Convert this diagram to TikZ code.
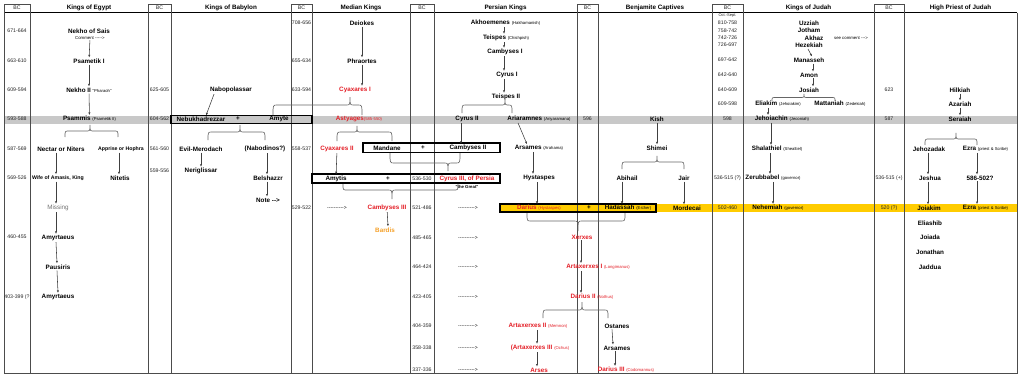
\documentclass[tikz,border=0pt]{standalone}
\usepackage{fontspec}
\newfontfamily\arial{Liberation Sans}
\usetikzlibrary{arrows.meta}
\definecolor{myred}{RGB}{228,30,38}
\definecolor{myorange}{RGB}{245,160,40}
\definecolor{band}{RGB}{200,200,200}
\definecolor{gold}{RGB}{255,204,0}
\newcommand\sm[1]{{\mdseries\fontsize{4.2}{5}\selectfont #1}}
\newcommand\mybrace[6]{\draw[brc] (#1,#6) .. controls (#1,#5) .. ({#1+4},#5) -- ({#3-4},#5) .. controls (#3,#5) .. (#3,#4) .. controls (#3,#5) .. ({#3+4},#5) -- ({#2-4},#5) .. controls (#2,#5) .. (#2,#6);}
\tikzset{
 nm/.style={font=\arial\bfseries\fontsize{6.3}{7}\selectfont, inner sep=1pt},
 nms/.style={font=\arial\bfseries\fontsize{5.2}{6}\selectfont, inner sep=1pt},
 rd/.style={nm, text=myred},
 gy/.style={font=\arial\fontsize{6.3}{7}\selectfont, inner sep=1pt, text=black!55},
 bc/.style={font=\arial\fontsize{5.2}{6}\selectfont, inner sep=0.5pt, text=black!85},
 bcs/.style={font=\arial\fontsize{4}{5}\selectfont, inner sep=0.5pt, text=black!85},
 hd/.style={font=\arial\bfseries\fontsize{6.3}{7}\selectfont, inner sep=0.5pt},
 sm0/.style={font=\arial\fontsize{4.3}{5}\selectfont, inner sep=0.5pt},
 smb/.style={font=\arial\bfseries\fontsize{4.3}{5}\selectfont, inner sep=0.5pt},
 dsh/.style={font=\arial\fontsize{5}{6}\selectfont, inner sep=0.5pt},
 arr/.style={draw=black!75, line width=0.55pt, -{Latex[length=2.6pt,width=2.2pt]}},
 brc/.style={draw=black!60, line width=0.65pt},
 col/.style={draw=black!70, line width=0.8pt},
 pbox/.style={draw=black, line width=1.3pt},
}
\begin{document}
\begin{tikzpicture}[x=1pt,y=-1pt]
\useasboundingbox (0,0) rectangle (1024,380);
\fill[white] (0,0) rectangle (1024,380);
% bands
\fill[band] (4,115.5) rectangle (1017,123.5);
\fill[gold] (500,204) rectangle (1017,212);
% frame
\draw[line width=1.2pt] (4,12.5) -- (1017,12.5);
\draw[col] (1017,12.5) -- (1017,373) -- (4,373);
\foreach \a/\b in {4/30,148/171,291/312,410/434,577/598,712/743,874/904}
  \draw[col] (\a,4) rectangle (\b,373);
% boxes
\draw[pbox] (171,115.5) rectangle (312,123.5);
\draw[pbox] (363,143) rectangle (500,152.5);
\draw[pbox] (312,174) rectangle (500,183);
\draw[pbox] (500,204) rectangle (656,212);

% headers
\node[bc] (hb1) at (17,8) {BC};
\node[bc] (hb2) at (159.5,8) {BC};
\node[bc] (hb3) at (301.5,8) {BC};
\node[bc] (hb4) at (422,8) {BC};
\node[bc] (hb5) at (587.5,8) {BC};
\node[bc] (hb6) at (727.5,8) {BC};
\node[bc] (hb7) at (889,8) {BC};
\node[hd] (hEg) at (89,8) {Kings of Egypt};
\node[hd] (hBa) at (231,8) {Kings of Babylon};
\node[hd] (hMe) at (361,8) {Median Kings};
\node[hd] (hPe) at (505.5,8) {Persian Kings};
\node[hd] (hBe) at (655,8) {Benjamite Captives};
\node[hd] (hJu) at (808.5,8) {Kings of Judah};
\node[hd] (hHp) at (960.5,8) {High Priest of Judah};

% BC values
\node[bc] (c11) at (17,31) {671-664};
\node[bc] (c12) at (17,61) {663-610};
\node[bc] (c13) at (17,90) {609-594};
\node[bc] (c14) at (17,119) {593-588};
\node[bc] (c15) at (17,149) {587-569};
\node[bc] (c16) at (17,178) {569-526};
\node[bc] (c17) at (17,237) {460-455};
\node[bc] (c18) at (17,297) {403-399 (?};
\node[bc] (c21) at (159.5,90) {625-605};
\node[bc] (c22) at (159.5,119) {604-562};
\node[bc] (c23) at (159.5,149) {561-560};
\node[bc] (c24) at (159.5,171) {559-556};
\node[bc] (c31) at (301.5,23) {708-656};
\node[bc] (c32) at (301.5,61) {655-634};
\node[bc] (c33) at (301.5,90) {633-594};
\node[bc] (c34) at (301.5,149) {558-537};
\node[bc] (c35) at (301.5,208) {529-522};
\node[bc] (c41) at (422,178.5) {536-530};
\node[bc] (c42) at (422,208) {521-486};
\node[bc] (c43) at (422,238) {485-465};
\node[bc] (c44) at (422,267) {464-424};
\node[bc] (c45) at (422,297) {423-405};
\node[bc] (c46) at (422,326) {404-359};
\node[bc] (c47) at (422,348) {358-338};
\node[bc] (c48) at (422,370) {337-336};
\node[bc] (c51) at (587.5,119) {596};
\node[bcs] (c60) at (727.5,15.5) {Oct.-Sept.};
\node[bc] (c61) at (727.5,23) {810-758};
\node[bc] (c62) at (727.5,30.5) {758-742};
\node[bc] (c63) at (727.5,38) {742-726};
\node[bc] (c64) at (727.5,45) {726-697};
\node[bc] (c65) at (727.5,60) {697-642};
\node[bc] (c66) at (727.5,75) {642-640};
\node[bc] (c67) at (727.5,90) {640-609};
\node[bc] (c68) at (727.5,104) {609-598};
\node[bc] (c69) at (727.5,119) {598};
\node[bc] (c6a) at (727.5,178) {536-515 (?)};
\node[bc] (c6b) at (727.5,208) {502-460};
\node[bc] (c71) at (889,90) {623};
\node[bc] (c72) at (889,119) {587};
\node[bc] (c73) at (889,178) {536-515 (+)};
\node[bc] (c74) at (889,208) {520 (?)};

% Egypt
\node[nm] (e1) at (89,31) {Nekho of Sais};
\node[sm0] (ecm) at (90,38) {Comment ----->};
\node[nm] (e2) at (89,61) {Psametik I};
\node[nm] (e3) at (89,90) {Nekho II \sm{"Pharaoh"}};
\node[nm] (e4) at (89.5,119) {Psammis \sm{(Psametik II)}};
\node[nm] (e5) at (61,149) {Nectar or Niters};
\node[nms] (e6) at (121,149) {Apprise or Hophra};
\node[nms] (e7) at (58,178) {Wife of Amasis, King};
\node[nm] (e8) at (120,178) {Nitetis};
\node[gy] (e9) at (58,208) {Missing};
\node[nm] (e10) at (58,238) {Amyrtaeus};
\node[nm] (e11) at (58,267) {Pausiris};
\node[nm] (e12) at (58,297) {Amyrtaeus};
\draw[arr] (ecm) -- (e2);
\draw[arr] (e2) -- (e3);
\draw[arr] (e3) -- (e4);
\draw[arr] ([xshift=-5pt]e5.south) -- ([xshift=-2pt]e7.north);
\draw[arr] ([xshift=-2pt]e6.south) -- ([xshift=-1pt]e8.north);
\draw[arr] ([xshift=-2pt]e7.south) -- ([xshift=-2pt]e9.north);
\draw[arr] ([xshift=-2pt]e9.south) -- ([xshift=-2pt]e10.north);
\draw[arr] ([xshift=-2pt]e10.south) -- ([xshift=-1pt]e11.north);
\draw[arr] ([xshift=-1pt]e11.south) -- (e12.north);
\mybrace{65}{118}{90}{125}{131}{137}

% Babylon
\node[nm] (b1) at (231,90) {Nabopolassar};
\node[nm] (b2) at (201,119) {Nebukhadrezzar};
\node[nm] (bplus) at (238,119) {+};
\node[nm] (b3) at (279,119) {Amyte};
\node[nm] (b4) at (201,149) {Evil-Merodach};
\node[nm] (b5) at (265,149) {(Nabodinos?)};
\node[nm] (b6) at (201,171) {Neriglissar};
\node[nm] (b7) at (268,178) {Belshazzr};
\node[nm] (b8) at (268,200) {Note -->};
\draw[arr] ([xshift=-17pt]b1.south) -- ([xshift=5pt]b2.north);
\draw[arr] (b4) -- (b6);
\draw[arr] ([xshift=2pt]b5.south) -- ([xshift=-1pt]b7.north);
\draw[arr] ([xshift=-1pt]b7.south) -- ([xshift=-1pt]b8.north);
\mybrace{208}{265}{240}{125}{132}{140}

% Median
\node[nm] (m1) at (362,23) {Deiokes};
\node[nm] (m2) at (362,61) {Phraortes};
\node[rd] (m3) at (355,90) {Cyaxares I};
\node[rd] (m4) at (359,119) {Astyages\sm{(585-550)}};
\node[rd] (m5) at (337,149) {Cyaxares II};
\node[nm] (m6) at (387,148) {Mandane};
\node[nm] (mplus) at (423,148) {+};
\node[nm] (p6b) at (468,148) {Cambyses II};
\node[nm] (m7) at (336,178.5) {Amytis};
\node[nm] (mplus2) at (388,178.5) {+};
\node[rd] (p7b) at (467,178.5) {Cyrus III, of Persia};
\node[smb] (pgr) at (467,187) {"the Great"};
\node[dsh] (md1) at (337,208) {---------->};
\node[rd] (m8) at (387,208) {Cambyses III};
\node[nm, text=myorange] (m9) at (385,230) {Bardis};
\draw[arr] (m1) -- (m2);
\draw[arr] (m2) -- ([xshift=7pt]m3.north);
\draw[arr] (m5) -- (m7);
\draw[arr] (m8) -- ([xshift=3pt]m9.north);
\mybrace{273}{362}{350}{97}{105}{115}
\mybrace{337}{392}{357}{126}{132}{141}
\mybrace{390}{460}{448}{171}{163}{153}
\mybrace{343}{458}{392}{199}{190}{184}

% Persian
\node[nm] (p1) at (505.5,23) {Akhoemenes \sm{(Hakhamanish)}};
\node[nm] (p2) at (506,38) {Teispes \sm{(Chishpish)}};
\node[nm] (p3) at (505,52) {Cambyses I};
\node[nm] (p4) at (507,75) {Cyrus I};
\node[nm] (p5) at (506,97) {Teispes II};
\node[nm] (p6) at (467,119) {Cyrus II};
\node[nm] (p7) at (539,119) {Ariaramnes \sm{(Ariyaramana)}};
\node[nm] (p8) at (539,148) {Arsames \sm{(Arahama)}};
\node[nm] (p9) at (539,178) {Hystaspes};
\node[rd] (p10) at (539,208) {Darius \sm{(Hystaspes)}};
\node[nm] (pplus) at (589,208) {+};
\node[rd] (p11) at (582,237) {Xerxes};
\node[rd] (p12) at (598,267) {Artaxerxes I \sm{(Longimanus)}};
\node[rd] (p13) at (592,297) {Darius II \sm{(Nothus)}};
\node[rd] (p14) at (538,326) {Artaxerxes II \sm{(Memnon)}};
\node[nm] (p15) at (617,326) {Ostanes};
\node[rd] (p16) at (540,348) {(Artaxerxes III \sm{(Ochus)}};
\node[nm] (p17) at (617,348) {Arsames};
\node[rd] (p18) at (539,370) {Arses};
\node[rd] (p19) at (626,370) {Darius III \sm{(Codomannus)}};
\node[dsh] (pd1) at (468,208) {---------->};
\node[dsh] (pd2) at (468,238) {---------->};
\node[dsh] (pd3) at (468,267) {---------->};
\node[dsh] (pd4) at (468,297) {---------->};
\node[dsh] (pd5) at (468,326) {---------->};
\node[dsh] (pd6) at (468,348) {---------->};
\node[dsh] (pd7) at (468,370) {---------->};
\draw[arr] ([xshift=-1.5pt]p1.south) -- ([xshift=-2pt]p2.north);
\draw[arr] ([xshift=-2pt]p2.south) -- ([xshift=-1pt]p3.north);
\draw[arr] ([xshift=-1pt]p3.south) -- ([xshift=-3pt]p4.north);
\draw[arr] ([xshift=-3pt]p4.south) -- ([xshift=-2pt]p5.north);
\draw[arr] ([xshift=-6pt]p6.south) -- ([xshift=-7pt]p6b.north);
\draw[arr] ([xshift=-21pt]p7.south) -- ([xshift=-12pt]p8.north);
\draw[arr] ([xshift=-6pt]p8.south) -- ([xshift=-6pt]p9.north);
\draw[arr] ([xshift=-2pt]p9.south) -- ([xshift=-2pt]p10.north);
\draw[arr] ([xshift=-1pt]p11.south) -- ([xshift=-17pt]p12.north);
\draw[arr] ([xshift=-17pt]p12.south) -- ([xshift=-11pt]p13.north);
\draw[arr] ([xshift=-1pt]p14.south) -- ([xshift=-3pt]p16.north);
\draw[arr] ([xshift=-5pt]p15.south) -- ([xshift=-4pt]p17.north);
\draw[arr] ([xshift=-3pt]p16.south) -- ([xshift=-2pt]p18.north);
\draw[arr] ([xshift=-2pt]p17.south) -- ([xshift=-11pt]p19.north);
\mybrace{462}{512}{505}{99}{105}{113}
\mybrace{527}{625}{578}{231}{221}{213}
\mybrace{543}{608}{582}{302}{310}{318}

% Benjamite
\node[nm] (k1) at (657,119) {Kish};
\node[nm] (k2) at (657,148) {Shimei};
\node[nm] (k3) at (627,178) {Abihail};
\node[nm] (k4) at (684,178) {Jair};
\node[nm] (k5) at (628,208) {Hadassah \sm{(Esther)}};
\node[nm] (k6) at (687,208) {Mordecai};
\draw[arr] (k1) -- (k2);
\draw[arr] ([xshift=-5pt]k3.south) -- ([xshift=-6pt]k5.north);
\draw[arr] (k4.south) -- ([xshift=-3pt]k6.north);
\mybrace{622}{684}{657}{156}{162}{169}

% Judah
\node[nm] (j1) at (809,23) {Uzziah};
\node[nm] (j2) at (809,30.5) {Jotham};
\node[nm] (j3) at (814,38) {Akhaz};
\node[sm0] (jcm) at (851,38) {see comment --->};
\node[nm] (j4) at (809,45.5) {Hezekiah};
\node[nm] (j5) at (809,60) {Manasseh};
\node[nm] (j6) at (809,75) {Amon};
\node[nm] (j7) at (809,90) {Josiah};
\node[nm] (j8) at (778,104) {Eliakim \sm{(Jehoiakim)}};
\node[nm] (j9) at (840,104) {Mattaniah \sm{(Zedekiah)}};
\node[nm] (j10) at (782,119) {Jehoiachin \sm{(Jeconiah)}};
\node[nm] (j11) at (777,149) {Shalathiel \sm{(Shealtiel)}};
\node[nm] (j12) at (773,178) {Zerubbabel \sm{(governor)}};
\node[nm] (j13) at (778,208) {Nehemiah \sm{(governor)}};
\draw[arr] ([xshift=-1pt]j4.south) -- ([xshift=3pt]j5.north);
\draw[arr] ([xshift=4pt]j5.south) -- ([xshift=4pt]j6.north);
\draw[arr] ([xshift=4pt]j6.south) -- ([xshift=4pt]j7.north);
\draw[arr] ([xshift=-10pt]j8.south) -- ([xshift=-14pt]j10.north);
\draw[arr] ([xshift=-11pt]j10.south) -- ([xshift=-6pt]j11.north);
\draw[arr] ([xshift=-7pt]j11.south) -- ([xshift=-3pt]j12.north);
\draw[arr] (j12.south) -- ([xshift=-5pt]j13.north);
\mybrace{772}{835}{804}{94}{97.5}{101}

% High priest
\node[nm] (h1) at (960,90) {Hilkiah};
\node[nm] (h2) at (960,104) {Azariah};
\node[nm] (h3) at (960,119) {Seraiah};
\node[nm] (h4) at (929,149) {Jehozadak};
\node[nm] (h5) at (985.5,149) {Ezra \sm{(priest \& Scribe)}};
\node[nm] (h6) at (930,178) {Jeshua};
\node[nm] (h7) at (980,178) {586-502?};
\node[nm] (h8) at (929,208) {Joiakim};
\node[nm] (h9) at (985.5,208) {Ezra \sm{(priest \& Scribe)}};
\node[nm] (h10) at (930,223) {Eliashib};
\node[nm] (h11) at (930,237) {Joiada};
\node[nm] (h12) at (930,252) {Jonathan};
\node[nm] (h13) at (930,267) {Jaddua};
\draw[arr] (h1) -- (h2);
\draw[arr] (h2) -- (h3);
\draw[arr] ([xshift=-1pt]h4.south) -- ([xshift=-2pt]h6.north);
\draw[arr] ([xshift=-8.5pt]h5.south) -- ([xshift=-3pt]h7.north);
\draw[arr] ([xshift=-2pt]h6.south) -- ([xshift=-1pt]h8.north);
\draw[arr] ([xshift=-3pt]h7.south) -- ([xshift=-8.5pt]h9.north);
\mybrace{925}{977}{956}{133}{139}{145}
\end{tikzpicture}
\end{document}
